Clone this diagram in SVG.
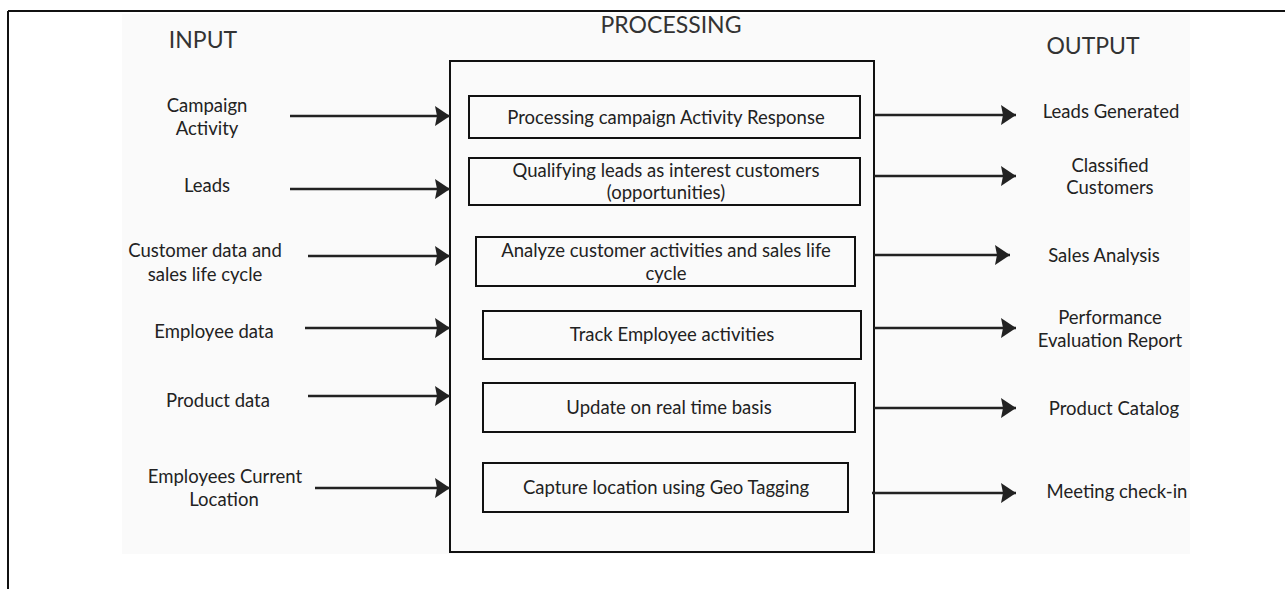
<svg xmlns="http://www.w3.org/2000/svg" width="1285" height="589" viewBox="0 0 1285 589">
<style>
  text { font-family: Lato, "Open Sans", "Liberation Sans", sans-serif; fill: #222; }
  .hdr { font-size: 23px; fill: #333; text-anchor: middle; }
  .lbl { font-size: 18.5px; text-anchor: middle; }
  .ptxt { font-size: 18.5px; text-anchor: middle; }
  .box { fill: none; stroke: #111; stroke-width: 2; }
  .conn line { stroke: #222; stroke-width: 2.5; }
</style>
<defs>
  <marker id="ah" viewBox="0 0 15 20" refX="15" refY="10" markerWidth="15" markerHeight="20" markerUnits="userSpaceOnUse" orient="auto">
    <path d="M0,0 L15,10 L0,20 L2,10 Z" fill="#222"/>
  </marker>
</defs>
<rect x="0" y="0" width="1285" height="589" fill="#ffffff"/>
<rect x="122" y="14" width="1068" height="540" fill="#fafafa"/>
<g id="frame">
  <line x1="8" y1="11" x2="1285" y2="11" stroke="#111" stroke-width="2"/>
  <line x1="8" y1="11" x2="8" y2="589" stroke="#111" stroke-width="2"/>
</g>
<g id="headers">
  <text class="hdr" x="203" y="48">INPUT</text>
  <text class="hdr" x="671" y="33">PROCESSING</text>
  <text class="hdr" x="1093" y="54">OUTPUT</text>
</g>
<g id="processing">
  <rect class="box" x="450" y="61" width="424" height="491"/>
</g>
<g id="p1"><rect class="box" x="469" y="96" width="391" height="42"/><text class="ptxt" x="666" y="124">Processing campaign Activity Response</text></g>
<g id="p2"><rect class="box" x="469" y="158" width="391" height="47"/><text class="ptxt" x="666" y="177">Qualifying leads as interest customers</text><text class="ptxt" x="666" y="199">(opportunities)</text></g>
<g id="p3"><rect class="box" x="476" y="237" width="379" height="49"/><text class="ptxt" x="666" y="257">Analyze customer activities and sales life</text><text class="ptxt" x="666" y="280">cycle</text></g>
<g id="p4"><rect class="box" x="483" y="311" width="378" height="48"/><text class="ptxt" x="672" y="341">Track Employee activities</text></g>
<g id="p5"><rect class="box" x="483" y="383" width="372" height="49"/><text class="ptxt" x="669" y="414">Update on real time basis</text></g>
<g id="p6"><rect class="box" x="483" y="463" width="365" height="49"/><text class="ptxt" x="666" y="494">Capture location using Geo Tagging</text></g>
<g id="in1"><text class="lbl" x="207" y="112">Campaign</text><text class="lbl" x="207" y="135">Activity</text></g>
<g id="in2"><text class="lbl" x="207" y="192">Leads</text></g>
<g id="in3"><text class="lbl" x="205" y="257">Customer data and</text><text class="lbl" x="205" y="281">sales life cycle</text></g>
<g id="in4"><text class="lbl" x="214" y="338">Employee data</text></g>
<g id="in5"><text class="lbl" x="218" y="407">Product data</text></g>
<g id="in6"><text class="lbl" x="225" y="483">Employees Current</text><text class="lbl" x="224" y="506">Location</text></g>
<g id="out1"><text class="lbl" x="1111" y="118">Leads Generated</text></g>
<g id="out2"><text class="lbl" x="1110" y="172">Classified</text><text class="lbl" x="1110" y="194">Customers</text></g>
<g id="out3"><text class="lbl" x="1104" y="262">Sales Analysis</text></g>
<g id="out4"><text class="lbl" x="1110" y="324">Performance</text><text class="lbl" x="1110" y="347">Evaluation Report</text></g>
<g id="out5"><text class="lbl" x="1114" y="415">Product Catalog</text></g>
<g id="out6"><text class="lbl" x="1117" y="498">Meeting check-in</text></g>
<g id="connectors" class="conn">
  <line x1="290" y1="116" x2="450" y2="116" marker-end="url(#ah)"/>
  <line x1="290" y1="189" x2="450" y2="189" marker-end="url(#ah)"/>
  <line x1="308" y1="256" x2="450" y2="256" marker-end="url(#ah)"/>
  <line x1="305" y1="328" x2="450" y2="328" marker-end="url(#ah)"/>
  <line x1="308" y1="396" x2="450" y2="396" marker-end="url(#ah)"/>
  <line x1="315" y1="488" x2="450" y2="488" marker-end="url(#ah)"/>
  <line x1="874" y1="115" x2="1016" y2="115" marker-end="url(#ah)"/>
  <line x1="874" y1="176" x2="1016" y2="176" marker-end="url(#ah)"/>
  <line x1="874" y1="255" x2="1010" y2="255" marker-end="url(#ah)"/>
  <line x1="874" y1="328" x2="1016" y2="328" marker-end="url(#ah)"/>
  <line x1="874" y1="408" x2="1016" y2="408" marker-end="url(#ah)"/>
  <line x1="872" y1="493" x2="1016" y2="493" marker-end="url(#ah)"/>
</g>
</svg>
